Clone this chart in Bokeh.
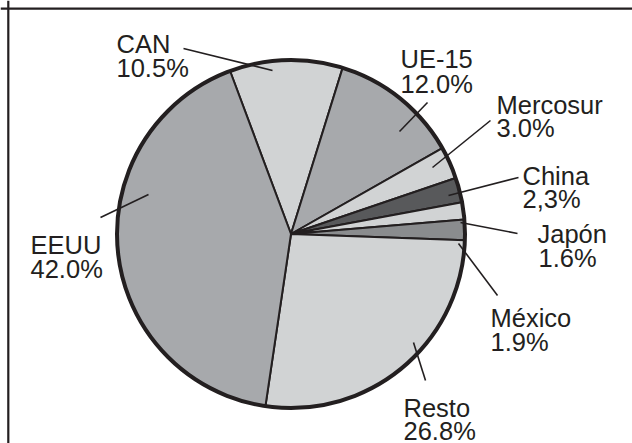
import numpy as np
from bokeh.plotting import figure
from bokeh.models import Range1d, Span
from bokeh.embed import file_html
from bokeh.resources import INLINE
from bokeh.core.properties import value

# ---- data ----
regions = ["CAN", "UE-15", "Mercosur", "China", "Japón", "México", "Resto", "EEUU"]
shares = [10.5, 12.0, 3.0, 2.3, 1.6, 1.9, 26.8, 42.0]
share_labels = ["10.5%", "12.0%", "3.0%", "2,3%", "1.6%", "1.9%", "26.8%", "42.0%"]

# ---- style / layout ----
LIGHT, MID, DARK, MEX = "#d1d3d4", "#a7a9ac", "#58595b", "#8a8c8e"
colors = [LIGHT, MID, LIGHT, DARK, LIGHT, MEX, LIGHT, MID]
INK = "#231f20"
FONT = "Liberation Sans"
FS = "25.5px"

W, H = 632, 443
cx, cy, R = 290.5, 209.5, 174
theta0 = -20.5  # degrees clockwise from north where the first slice starts

# label anchors (left x, baseline of name line, baseline of value line)
lab_x = [116, 400, 496, 522, 537, 490, 403, 30]
lab_x2 = [116, 400, 496, 522, 538, 490, 403, 30]
lab_y1 = [400, 385, 339, 268, 210, 126, 36, 199]
lab_y2 = [376, 360, 316, 244.5, 186, 102, 13, 175]
# leader lines
ld_x0 = [183, 427, 490, 518, 460, 458, 413, 148]
ld_y0 = [395, 341, 323, 266, 221, 200, 101, 249]
ld_x1 = [272, 399, 432, 448, 517, 497, 425, 100]
ld_y1 = [373, 312, 276, 248, 210, 148, 63, 226]

p = figure(width=W, height=H, output_backend="svg", toolbar_location=None,
           x_range=Range1d(0, W), y_range=Range1d(0, H),
           x_axis_location=None, y_axis_location=None, min_border=0)
p.grid.visible = False
p.outline_line_color = None
p.background_fill_color = "white"
p.border_fill_color = "white"

frac = np.array(shares) / np.sum(shares)
cum = theta0 + 360.0 * np.concatenate([[0.0], np.cumsum(frac)])
start = np.radians(90.0 - cum[1:])
end = np.radians(90.0 - cum[:-1])

p.wedge(x=cx, y=cy, radius=R, start_angle=start, end_angle=end,
        fill_color=colors, line_color=INK, line_width=2)
p.circle(x=[cx], y=[cy], radius=R, fill_color=None, line_color=INK, line_width=4)

p.segment(x0=ld_x0, y0=ld_y0, x1=ld_x1, y1=ld_y1, line_color=INK, line_width=1.6)

p.text(x=lab_x, y=lab_y1, text=regions, text_font=value(FONT), text_font_size=FS,
       text_color=INK, text_align="left", text_baseline="alphabetic")
p.text(x=lab_x2, y=lab_y2, text=share_labels, text_font=value(FONT), text_font_size=FS,
       text_color=INK, text_align="left", text_baseline="alphabetic")

p.add_layout(Span(location=7.8, dimension="height", line_color=INK, line_width=2.2))
p.add_layout(Span(location=H - 8.2, dimension="width", line_color=INK, line_width=2.2))

open("out.html", "w").write(file_html(p, INLINE))
